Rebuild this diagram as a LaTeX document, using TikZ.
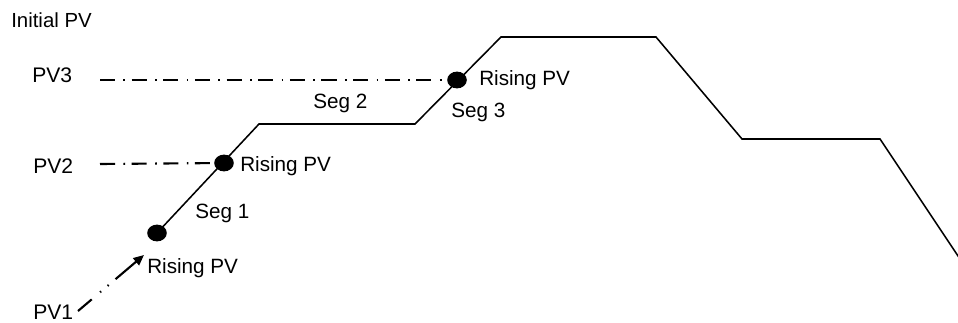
\documentclass[tikz,border=0pt]{standalone}
\usepackage{fontspec}
\setmainfont{Liberation Sans}
\usepackage{tikz}
\usetikzlibrary{arrows.meta,shapes.geometric}

\begin{document}
\begin{tikzpicture}[
  x=0.025cm,y=-0.025cm,
  profile/.style={line width=1.1pt,line join=miter},
  dashdot/.style={line width=1.5pt,dash pattern=on 10.7pt off 6pt on 1.2pt off 4.6pt},
  risearrow/.style={line width=1.5pt,-{Triangle[length=7.5pt,width=6.5pt]},
                    dash pattern=on 12.8pt off 7.8pt on 1pt off 6pt on 1pt off 6.4pt on 21pt off 10pt},
  pvdot/.style={ellipse,fill=black,minimum width=0.49cm,minimum height=0.42cm,inner sep=0pt},
  pvlbl/.style={anchor=base west,inner sep=0pt,font=\fontsize{15}{18}\selectfont},
  txt/.style={anchor=base west,inner sep=0pt,font=\fontsize{14.7}{17}\selectfont}
]
\useasboundingbox (0,0) rectangle (958,322);
% corners of the profile
\coordinate (c1) at (259,124);
\coordinate (c2) at (415,124);
\coordinate (c3) at (501,37);
\coordinate (c4) at (656,37);
\coordinate (c5) at (742,139);
\coordinate (c6) at (880,139);
\coordinate (c7) at (962,262);
% start of the level lines
\coordinate (s3) at (100,80);
\coordinate (s2) at (100,164);
\coordinate (a0) at (78,311);
\coordinate (a1) at (144,255);
\node[pvdot] (d1) at (157,233) {};
\node[pvdot] (d2) at (224,163) {};
\node[pvdot] (d3) at (457,80) {};
\draw[profile] (d1.center) -- (c1) -- (c2) -- (c3) -- (c4) -- (c5) -- (c6) -- (c7);
\draw[dashdot] (s3) -- (d3.center);
\draw[dashdot] (s2) -- (d2.center);
\draw[risearrow] (a0) -- (a1);
\node[txt,font=\fontsize{14.5}{17}\selectfont] (init) at (11,27) {Initial PV};
\node[pvlbl] (pv3) at (32,82) {PV3};
\node[pvlbl] (pv2) at (33,173) {PV2};
\node[pvlbl] (pv1) at (33,319) {PV1};
\node[txt] (r1) at (147,273) {Rising PV};
\node[txt] (r2) at (240,171) {Rising PV};
\node[txt] (r3) at (479,85) {Rising PV};
\node[txt] (seg1) at (195,218) {Seg 1};
\node[txt] (seg2) at (313,108) {Seg 2};
\node[txt] (seg3) at (451,117) {Seg 3};
\end{tikzpicture}
\end{document}
